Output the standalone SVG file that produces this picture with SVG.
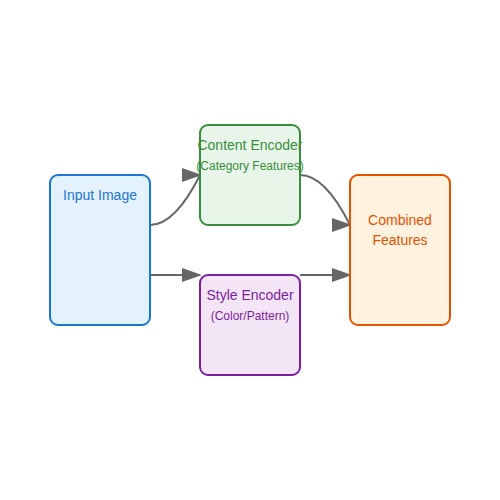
<svg xmlns="http://www.w3.org/2000/svg" width="500" height="500" viewBox="0 0 500 500">
<defs>
<marker id="arrow" markerWidth="10" markerHeight="7" refX="9" refY="3.5">
<polygon points="0 0, 10 3.5, 0 7" fill="#666"/>
</marker>
<style>
.box{stroke-width:2}
.t{font-family:"Liberation Sans",Arial,sans-serif;text-anchor:middle}
.l{font-size:14px}
.s{font-size:12px}
.c{fill:none;stroke:#666;stroke-width:2;marker-end:url(#arrow)}
</style>
</defs>
<rect width="500" height="500" fill="#fff"/>
<g id="connectors">
<path class="c" d="M150,225 Q175,225 200,175"/>
<path class="c" d="M150,275 L200,275"/>
<path class="c" d="M300,175 Q325,175 350,225"/>
<path class="c" d="M300,275 L350,275"/>
</g>
<g id="input">
<rect class="box" x="50" y="175" width="100" height="150" rx="8" fill="#e3f2fd" stroke="#1976d2"/>
<text class="t l" x="100" y="200" fill="#1976d2">Input Image</text>
</g>
<g id="content">
<rect class="box" x="200" y="125" width="100" height="100" rx="8" fill="#e8f5e9" stroke="#388e3c"/>
<text class="t l" x="250" y="150" fill="#388e3c">Content Encoder</text>
<text class="t s" x="250" y="170" fill="#388e3c">(Category Features)</text>
</g>
<g id="style">
<rect class="box" x="200" y="275" width="100" height="100" rx="8" fill="#f3e5f5" stroke="#7b1fa2"/>
<text class="t l" x="250" y="300" fill="#7b1fa2">Style Encoder</text>
<text class="t s" x="250" y="320" fill="#7b1fa2">(Color/Pattern)</text>
</g>
<g id="combined">
<rect class="box" x="350" y="175" width="100" height="150" rx="8" fill="#fff3e0" stroke="#e65100"/>
<text class="t l" x="400" y="225" fill="#e65100">Combined</text>
<text class="t l" x="400" y="245" fill="#e65100">Features</text>
</g>
</svg>
